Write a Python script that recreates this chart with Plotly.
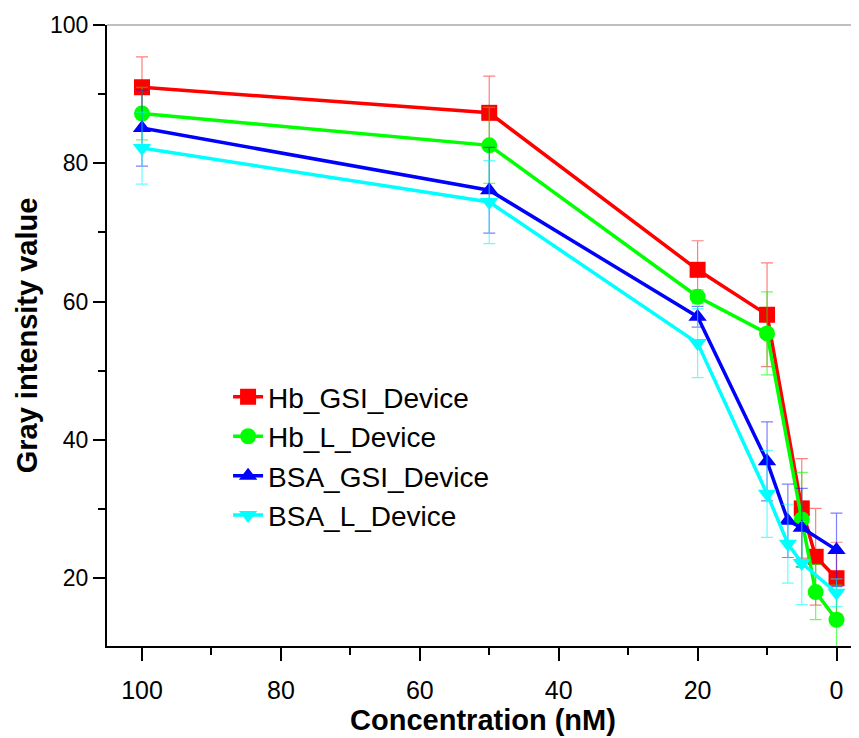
import plotly.graph_objects as go

# Data
x_hb = [100, 50, 20, 10, 5, 3, 0]
x_bsa = [100, 50, 20, 10, 7, 5, 0]

hb_gsi = [91.0, 87.3, 64.6, 58.1, 30.1, 23.1, 20.0]
hb_gsi_err = [4.4, 5.3, 4.2, 7.5, 7.2, 7.0, 5.2]

hb_l = [87.2, 82.6, 60.7, 55.4, 28.5, 18.0, 14.0]
hb_l_err = [3.8, 5.5, 1.0, 6.0, 6.8, 4.0, 5.0]

bsa_gsi = [85.1, 76.1, 57.8, 36.9, 28.3, 27.3, 24.1]
bsa_gsi_err = [5.5, 6.2, 1.5, 5.7, 5.3, 5.7, 5.3]

bsa_l = [82.2, 74.4, 54.0, 32.2, 25.0, 22.2, 17.9]
bsa_l_err = [5.2, 6.0, 5.0, 6.3, 5.7, 6.0, 2.0]

names = ["Hb_GSI_Device", "Hb_L_Device", "BSA_GSI_Device", "BSA_L_Device"]
colors = ["#FF0000", "#00FF00", "#0000FF", "#00FFFF"]
err_colors = ["rgba(255,0,0,0.5)", "rgba(0,255,0,0.6)", "rgba(0,0,255,0.5)", "rgba(0,255,255,0.6)"]
symbols = ["square", "circle", "triangle-up", "triangle-down"]
xs = [x_hb, x_hb, x_bsa, x_bsa]
ys = [hb_gsi, hb_l, bsa_gsi, bsa_l]
errs = [hb_gsi_err, hb_l_err, bsa_gsi_err, bsa_l_err]

fig = go.Figure()
for i in range(4):
    fig.add_trace(go.Scatter(
        x=xs[i], y=ys[i], name=names[i], mode="lines+markers",
        legendgroup=names[i],
        line=dict(color=colors[i], width=3.5),
        marker=dict(symbol=symbols[i], size=16, color=colors[i]),
        error_y=dict(type="data", array=errs[i], visible=True,
                     color=err_colors[i], thickness=1.2, width=6),
    ))

# light gray top frame line
fig.add_shape(type="line", xref="paper", yref="paper", x0=0, x1=1, y0=1, y1=1,
              line=dict(color="#AAAAAA", width=1.5), layer="below")

fig.update_layout(
    width=851, height=730,
    margin=dict(l=99, r=0, t=17, b=92, autoexpand=False),
    paper_bgcolor="white", plot_bgcolor="white",
    font=dict(family="Liberation Sans, Arial, sans-serif", color="black"),
    showlegend=True,
    legend=dict(x=0.161, y=0.441, xanchor="left", yanchor="top",
                font=dict(size=28, color="black"), bgcolor="rgba(0,0,0,0)",
                tracegroupgap=0),
    xaxis=dict(
        range=[105.04, -3.24], tickmode="array", tickvals=[100, 80, 60, 40, 20, 0],
        showline=True, linecolor="black", linewidth=2, ticks="outside",
        ticklen=13, tickwidth=2, tickcolor="black", showgrid=False, zeroline=False,
        tickfont=dict(size=25), automargin=False, ticklabelstandoff=8,
        minor=dict(tickvals=[90, 70, 50, 30, 10], ticks="outside", ticklen=7,
                   tickwidth=2, tickcolor="black"),
        title=dict(text="<b>Concentration (nM)</b>", font=dict(size=29), standoff=0),
    ),
    yaxis=dict(
        range=[10.2, 100], tickmode="array", tickvals=[20, 40, 60, 80, 100],
        showline=True, linecolor="black", linewidth=2, ticks="outside",
        ticklen=12, tickwidth=2, tickcolor="black", showgrid=False, zeroline=False,
        tickfont=dict(size=23), automargin=False,
        minor=dict(tickvals=[30, 50, 70, 90], ticks="outside", ticklen=7,
                   tickwidth=2, tickcolor="black"),
        title=dict(text="<b>Gray intensity value</b>", font=dict(size=29), standoff=4),
    ),
)

fig.write_html("out.html")
